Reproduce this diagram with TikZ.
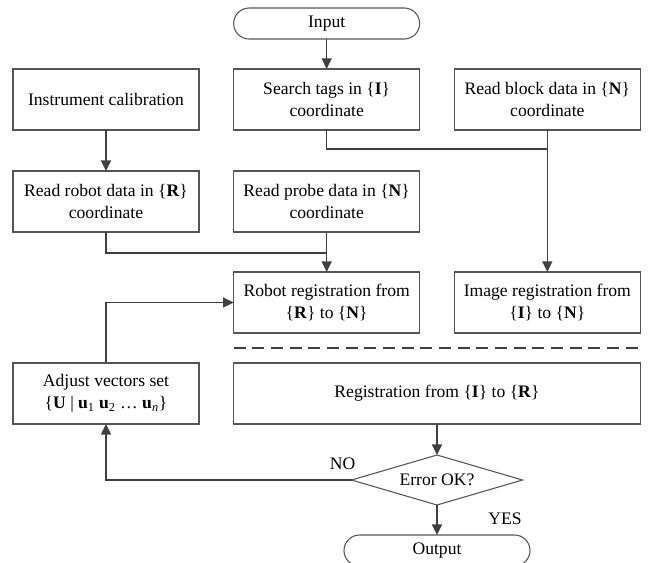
\documentclass[tikz,border=0pt]{standalone}
\usepackage{fontspec}
\setmainfont{Liberation Serif}
\usetikzlibrary{positioning,shapes.geometric,arrows.meta}
\definecolor{boxgray}{HTML}{555555}
\definecolor{linegray}{HTML}{404040}

\begin{document}
\begin{tikzpicture}[
                        node distance=26pt,
                        >={Triangle[length=8pt,width=7.5pt]},
                        font=\fontsize{13.2pt}{16.5pt}\selectfont,
                        box/.style={rectangle, draw=boxgray, line width=0.8pt, outer sep=0pt, minimum width=139.5pt, minimum height=45.75pt, align=center, inner sep=2pt},
                        terminal/.style={rectangle, rounded corners=11.6pt, draw=boxgray, line width=0.8pt, outer sep=0pt, minimum width=139.5pt, minimum height=23.25pt, inner sep=1pt},
                        test/.style={diamond, aspect=3.4, draw=boxgray, line width=0.8pt, outer sep=0pt, minimum width=128.25pt, minimum height=37.5pt, inner sep=0pt},
                        conn/.style={draw=linegray, line width=1.1pt}
                    ]
                    % Blocks
                    \node [box] (calib) {Instrument calibration};
                    \node [box, right=of calib] (search) {Search tags in \{\textbf{I}\}\\coordinate};
                    \node [box, right=of search] (block) {Read block data in \{\textbf{N}\}\\coordinate};
                    \node [terminal, above=22.5pt of search] (input) {Input};
                    \node [box, below=30.75pt of calib] (robot) {Read robot data in \{\textbf{R}\}\\coordinate};
                    \node [box, below=30.75pt of search] (probe) {Read probe data in \{\textbf{N}\}\\coordinate};
                    \node [box, below=30pt of probe] (robotreg) {Robot registration from\\\{\textbf{R}\} to \{\textbf{N}\}};
                    \node [box, right=of robotreg] (imagereg) {Image registration from\\\{\textbf{I}\} to \{\textbf{N}\}};
                    \node [box, minimum width=305pt, below right=22.5pt and 0pt of robotreg.south west] (registr) {Registration from \{\textbf{I}\} to \{\textbf{R}\}};
                    \node [box, left=of registr] (adjust) {Adjust vectors set\\\{\textbf{U} | \textbf{u}\textsubscript{1} \textbf{u}\textsubscript{2} \dots{} \textbf{u}\textsubscript{\textit{n}}\}};
                    \node [test, below=23.25pt of registr] (check) {Error OK?};
                    \node [terminal, below=22.5pt of check] (output) {Output};
                    \node [anchor=south east, inner sep=0pt] (nolabel) at ([xshift=3pt, yshift=7.5pt]check.west) {NO};
                    \node [anchor=south, inner sep=0pt] (yeslabel) at ([xshift=51pt, yshift=-15pt]check.south) {YES};
                    \coordinate (merge1) at ([yshift=-14.25pt]block.south);
                    \coordinate (merge2) at ([yshift=-15.75pt]probe.south);

                    % Connections
                    \draw [conn, ->] (input) -- (search);
                    \draw [conn, ->] (calib) -- (robot);
                    \draw [conn] (search) |- (merge1);
                    \draw [conn, ->] (block) -- (imagereg);
                    \draw [conn] (robot) |- (merge2);
                    \draw [conn, ->] (probe) -- (robotreg);
                    \draw [conn, ->] (adjust) |- (robotreg);
                    \draw [conn, ->] (registr) -- (check);
                    \draw [conn, ->] (check) -| (adjust);
                    \draw [conn, ->] (check) -- (output);
                    \draw [draw=linegray, line width=1pt, dash pattern=on 9pt off 5pt] ([yshift=11.25pt]registr.north west) -- ([yshift=11.25pt]registr.north east);

                    % Frame
                    \path (calib.west |- input.north) ++(-9.75pt,6pt) coordinate (corner);
                    \pgfresetboundingbox
                    \useasboundingbox (corner) rectangle ++(486pt,-421.5pt);
                \end{tikzpicture}
\end{document}
